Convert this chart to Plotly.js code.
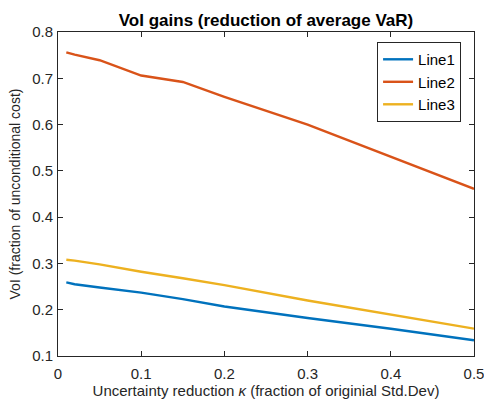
<!DOCTYPE html>
<html>
<head>
<meta charset="utf-8">
<script src="https://cdn.plot.ly/plotly-3.0.1.min.js"></script>
<style>html,body{margin:0;padding:0;background:#fff;}#chart{width:484px;height:404px;}</style>
</head>
<body>
<div id="chart"></div>
<script>
const xVals = [0.01, 0.02, 0.05, 0.1, 0.15, 0.2, 0.3, 0.4, 0.5];
const line1 = [0.259, 0.255, 0.248, 0.237, 0.223, 0.207, 0.182, 0.159, 0.134];
const line2 = [0.756, 0.751, 0.739, 0.706, 0.692, 0.660, 0.600, 0.531, 0.461];
const line3 = [0.308, 0.306, 0.298, 0.282, 0.268, 0.253, 0.220, 0.190, 0.159];
const seriesNames = ['Line1', 'Line2', 'Line3'];
const colors = ['#0072BD', '#D95319', '#EDB120'];
const xTicks = [0, 0.1, 0.2, 0.3, 0.4, 0.5];
const xTickText = ['0', '0.1', '0.2', '0.3', '0.4', '0.5'];
const yTicks = [0.1, 0.2, 0.3, 0.4, 0.5, 0.6, 0.7, 0.8];
const yTickText = ['0.1', '0.2', '0.3', '0.4', '0.5', '0.6', '0.7', '0.8'];

const fam = 'Liberation Sans, Arial, Helvetica, sans-serif';
const axCol = '#262626';
const data = [line1, line2, line3].map((ys, i) => ({
  x: xVals, y: ys, type: 'scatter', mode: 'lines', name: seriesNames[i],
  line: {color: colors[i], width: 2.4}
}));
const axisCommon = {
  showline: true, linecolor: axCol, linewidth: 1, mirror: 'ticks',
  ticks: 'inside', ticklen: 5, tickcolor: axCol, tickwidth: 1,
  showgrid: false, zeroline: false, ticklabeloverflow: 'allow',
  tickfont: {family: fam, size: 15, color: axCol}
};
const layout = {
  width: 484, height: 404,
  margin: {l: 58, r: 10, t: 32, b: 48},
  paper_bgcolor: '#fff', plot_bgcolor: '#fff',
  title: {text: '<b>VoI gains (reduction of average VaR)</b>', font: {family: fam, size: 17, color: '#000'}, x: 0.5, xref: 'paper', xanchor: 'center', y: 0.95, yanchor: 'middle', yref: 'container'},
  xaxis: Object.assign({}, axisCommon, {
    range: [0, 0.5], tickvals: xTicks, ticktext: xTickText, ticklabelstandoff: 4,
    title: {text: 'Uncertainty reduction <i>κ</i> (fraction of originial Std.Dev)', font: {family: fam, size: 15, color: axCol}, standoff: 3}
  }),
  yaxis: Object.assign({}, axisCommon, {
    range: [0.1, 0.8], tickvals: yTicks, ticktext: yTickText, ticklabelstandoff: 1,
    title: {text: 'VoI (fraction of unconditional cost)', font: {family: fam, size: 14, color: axCol}, standoff: 8}
  }),
  legend: {
    x: 0.767, y: 0.969, xanchor: 'left', yanchor: 'top',
    bgcolor: '#fff', bordercolor: axCol, borderwidth: 1,
    font: {family: fam, size: 15, color: '#000'},
    tracegroupgap: 0, itemwidth: 30
  },
  showlegend: true
};
Plotly.newPlot('chart', data, layout, {displayModeBar: false, staticPlot: true});
</script>
</body>
</html>
